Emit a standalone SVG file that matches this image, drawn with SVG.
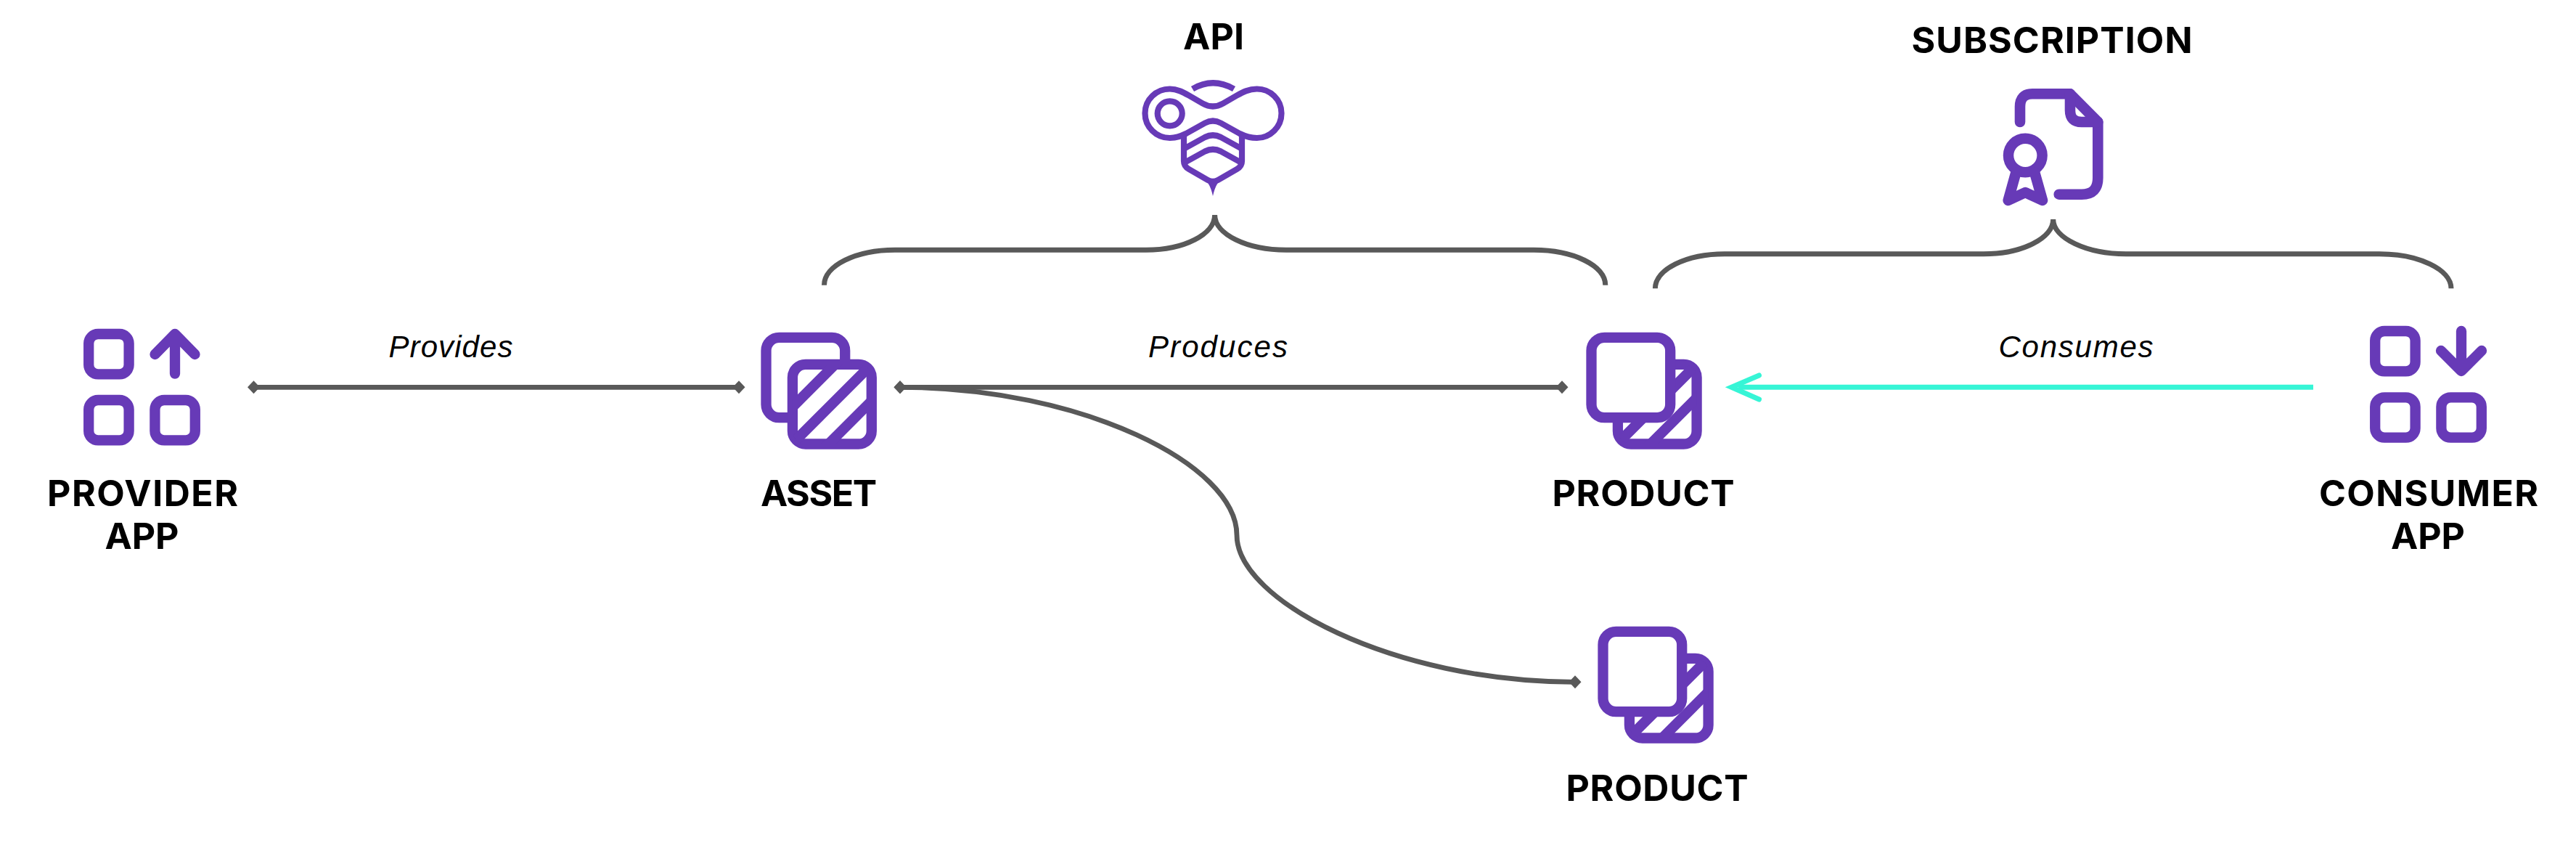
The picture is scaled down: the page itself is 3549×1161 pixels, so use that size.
<svg xmlns="http://www.w3.org/2000/svg" xmlns:xlink="http://www.w3.org/1999/xlink" width="3549" height="1161" viewBox="0 0 3549 1161">
<style>
.lbl{font-family:"Inter","Liberation Sans",sans-serif;font-weight:700;font-size:50px;fill:#000;text-anchor:middle}
.rel{font-family:"Liberation Sans",Arial,sans-serif;font-style:italic;font-size:42px;fill:#000;text-anchor:middle}
.ic{fill:none;stroke:#673AB7;stroke-width:14.3;stroke-linecap:round;stroke-linejoin:round}
.icw{fill:#fff;stroke:#673AB7;stroke-width:14.3}
.st{stroke:#673AB7;stroke-width:14.3;fill:none}
.bee{fill:none;stroke:#673AB7;stroke-width:8.2;stroke-linejoin:round}
.con{fill:none;stroke:#595959;stroke-width:6.8}
.dia{marker-start:url(#d);marker-end:url(#d)}
.br{fill:none;stroke:#595959;stroke-width:7}
</style>
<defs>
<marker id="d" markerUnits="userSpaceOnUse" markerWidth="18" markerHeight="18" refX="9" refY="9" orient="auto" overflow="visible"><path d="M0.5,9 L9,0 L17.5,9 L9,18 Z" fill="#595959"/></marker>
<clipPath id="ca"><rect x="1091.9" y="501.9" width="108.9" height="109.6" rx="18"/></clipPath>
<clipPath id="cp"><rect x="2228.9" y="501.9" width="108.7" height="109.6" rx="18"/></clipPath>
<rect id="sq" width="55.4" height="55.4" rx="13" class="ic"/>
<g id="product-icon">
<rect x="2228.9" y="501.9" width="108.7" height="109.6" rx="18" class="icw"/>
<g clip-path="url(#cp)" class="st">
<path d="M2200,639.3 L2400,439.3"/>
<path d="M2200,685.5 L2400,485.5"/>
</g>
<rect x="2192.5" y="464.9" width="108.7" height="110.2" rx="18" class="icw"/>
</g>
</defs>
<rect width="3549" height="1161" fill="#fff"/>

<g id="connectors">
<path class="con dia" d="M349.5,533.3 H1018"/>
<path class="con dia" d="M1240,533.3 H2152"/>
<path class="con" marker-start="url(#d)" marker-end="url(#d)" d="M1240,533.3 C1490,533.3 1704,640 1704,737 C1704,827 1920,939.3 2170,939.3"/>
<g fill="none" stroke="#36F5D6" stroke-width="7">
<path d="M3187,533.3 H2395"/>
<path d="M2423.5,517 L2385.5,533.3 L2423.5,550" stroke-linecap="round" stroke-linejoin="miter" stroke-miterlimit="10"/>
</g>
<path class="br" d="M1135.5,392.7 C1135.5,366 1179,344.3 1233,344.3 H1579 C1631.5,344.3 1673.6,322.7 1673.6,296 C1673.6,322.7 1718,344.3 1772,344.3 H2113 C2168,344.3 2211.8,366 2211.8,392.7"/>
<path class="br" d="M2280.4,397.3 C2280.4,371 2323,349.7 2376,349.7 H2733 C2786,349.7 2828.7,328 2828.7,302 C2828.7,328 2875,349.7 2929,349.7 H3278 C3332,349.7 3377,371 3377,397.3"/>
<text class="rel" x="621" y="491.7" textLength="171">Provides</text>
<text class="rel" x="1678" y="491.7" textLength="192">Produces</text>
<text class="rel" x="2860" y="491.7" textLength="213">Consumes</text>
</g>

<g id="provider-app">
<use href="#sq" x="122.2" y="460"/>
<use href="#sq" x="122.2" y="551"/>
<use href="#sq" x="213.4" y="551"/>
<path class="ic" d="M213.5,488 L241,460 L268.5,488 M241,460 V514.6"/>
<text class="lbl" x="196.5" y="696.7" textLength="263">PROVIDER</text>
<text class="lbl" x="195.5" y="756" textLength="102">APP</text>
</g>

<g id="asset">
<rect x="1055.5" y="464.9" width="108.7" height="110.2" rx="18" class="ic"/>
<rect x="1091.9" y="501.9" width="108.9" height="109.6" rx="18" class="icw"/>
<g clip-path="url(#ca)" class="st">
<path d="M1060,592.3 L1260,392.3"/>
<path d="M1060,642.7 L1260,442.7"/>
<path d="M1060,693 L1260,493"/>
</g>
<text class="lbl" x="1128" y="696.7" textLength="160">ASSET</text>
</g>

<g id="product">
<use href="#product-icon"/>
<text class="lbl" x="2264" y="696.7" textLength="251">PRODUCT</text>
</g>

<g id="product-2">
<use href="#product-icon" x="16" y="405"/>
<text class="lbl" x="2283" y="1102.7" textLength="251">PRODUCT</text>
</g>

<g id="consumer-app">
<use href="#sq" x="3272.2" y="456"/>
<use href="#sq" x="3272.2" y="547.3"/>
<use href="#sq" x="3363.4" y="547.3"/>
<path class="ic" d="M3363,483 L3391,511 L3419,483 M3391,456 V511"/>
<text class="lbl" x="3346" y="696.7" textLength="302">CONSUMER</text>
<text class="lbl" x="3345" y="756" textLength="102">APP</text>
</g>

<g id="api">
<path class="bee" d="M1643,122.5 Q1671,106 1700,122.5"/>
<circle cx="1611.7" cy="156.3" r="17" class="bee" stroke-width="8.6"/>
<path class="bee" d="M1611.7,122.5 C1593,122.5 1577.5,137 1577.5,156 C1577.5,175 1593,190 1611.7,190 C1622,190 1628,187 1634,184 L1660,169.5 Q1671,163.5 1682,169.5 L1708,184 C1714,187 1721,190 1731.7,190 C1750,190 1765.5,175 1765.5,156 C1765.5,137 1750,122.5 1731.7,122.5 C1720,122.5 1712,127 1704,131.5 L1685,142.5 Q1671,150.5 1657,142.5 L1638,131.5 C1630,127 1622,122.5 1611.7,122.5 Z"/>
<path class="bee" d="M1631,184 V222 Q1631,229 1638,233 L1664,248 Q1671,252 1678,248 L1704,233 Q1711,229 1711,222 V184"/>
<path class="bee" d="M1631,205 L1660,189 Q1671,183.5 1682,189 L1711,205"/>
<path class="bee" d="M1631,224.5 L1660,208.5 Q1671,203 1682,208.5 L1711,224.5"/>
<path d="M1662,249 Q1668,256 1671,270 Q1674,256 1680,249 Z" fill="#673AB7"/>
<text class="lbl" x="1672" y="68.3" textLength="84">API</text>
</g>

<g id="subscription">
<path class="ic" style="stroke-width:14.6" d="M2783,168 V147 Q2783,129.3 2800,129.3 H2852 L2890.3,168 V245 Q2890.3,267.7 2868,267.7 H2836.7"/>
<path class="ic" style="stroke-width:14.6" d="M2852,129.3 V152 Q2852,168 2868,168 H2890.3"/>
<circle cx="2790.3" cy="214" r="23.3" class="ic" style="stroke-width:14.5"/>
<path class="ic" style="stroke-width:14.6" d="M2777.3,238 L2766.7,276 L2790.3,265 L2814,276 L2803.3,238"/>
<text class="lbl" x="2827" y="73.3" textLength="387">SUBSCRIPTION</text>
</g>
</svg>
